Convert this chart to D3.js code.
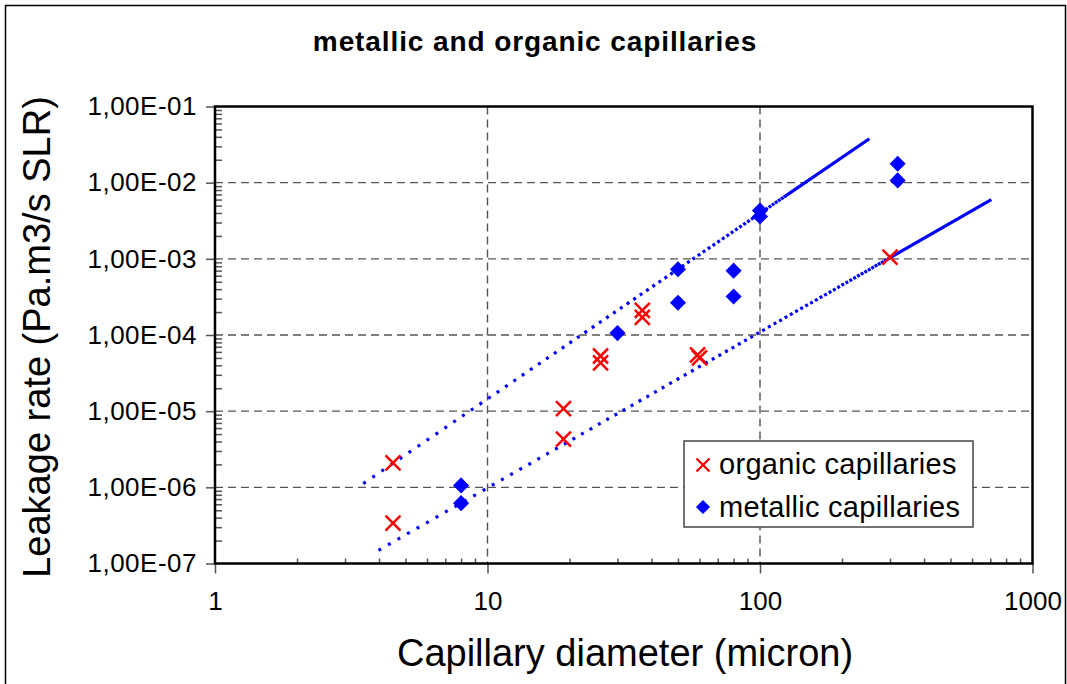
<!DOCTYPE html>
<html>
<head>
<meta charset="utf-8">
<script src="https://cdn.jsdelivr.net/npm/d3@7"></script>
<style>
  body { margin: 0; background: #fff; }
  text { font-family: Arial, "Liberation Sans", sans-serif; }
</style>
</head>
<body>
<svg id="canvas" width="1067" height="684"></svg>
<script>
// values
var organicX = [4.5, 4.5, 19, 19, 26, 26, 37, 37, 59, 60, 300];
var organicY = [2.1e-6, 3.4e-7, 1.08e-5, 4.3e-6, 5.3e-5, 4.3e-5, 2.1e-4, 1.7e-4, 5.5e-5, 5.0e-5, 1.05e-3];

var metallicX = [8, 8, 30, 50, 50, 80, 80, 100, 100, 320, 320];
var metallicY = [1.06e-6, 6.2e-7, 1.06e-4, 7.3e-4, 2.65e-4, 7.0e-4, 3.2e-4, 4.3e-3, 3.6e-3, 1.77e-2, 1.07e-2];

// power trendlines (start / end points)
var trendUpperX = [3.5, 252];
var trendUpperY = [1.12e-6, 3.77e-2];
var trendLowerX = [3.98, 706];
var trendLowerY = [1.49e-7, 5.97e-3];

var xTicks = [1, 10, 100, 1000];
var xTickLabels = ["1", "10", "100", "1000"];
var yTicks = [1e-7, 1e-6, 1e-5, 1e-4, 1e-3, 1e-2, 1e-1];
var yTickLabels = ["1,00E-07", "1,00E-06", "1,00E-05", "1,00E-04", "1,00E-03", "1,00E-02", "1,00E-01"];

var seriesNames = ["organic capillaries", "metallic capillaries"];

var svg = d3.select("#canvas"),
    plotLeft = 215, plotRight = 1032.5,
    plotTop = 106.5, plotBottom = 563.5;

var x = d3.scaleLog().domain([1, 1000]).range([plotLeft, plotRight]);
var y = d3.scaleLog().domain([1e-7, 1e-1]).range([plotBottom, plotTop]);

// chart frame
svg.append("rect")
  .attr("x", 5.5).attr("y", 5.5)
  .attr("width", 1060).attr("height", 700)
  .style("fill", "#fff")
  .style("stroke", "#000")
  .style("stroke-width", 1.5);

svg.append("text")
  .attr("x", 535).attr("y", 51)
  .attr("text-anchor", "middle")
  .style("font-size", "28px")
  .style("font-weight", "bold")
  .style("letter-spacing", "0.9px")
  .text("metallic and organic capillaries");

/*
  Grid
*/
var grid = svg.append("g");

grid.selectAll("line.h")
  .data(yTicks.slice(1, -1))
  .enter().append("line")
  .attr("class", "h")
  .attr("x1", plotLeft).attr("x2", plotRight)
  .attr("y1", function(d) { return y(d); })
  .attr("y2", function(d) { return y(d); });

grid.selectAll("line.v")
  .data(xTicks.slice(1, -1))
  .enter().append("line")
  .attr("class", "v")
  .attr("y1", plotTop).attr("y2", plotBottom)
  .attr("x1", function(d) { return x(d); })
  .attr("x2", function(d) { return x(d); });

grid.selectAll("line")
  .style("stroke", "#555")
  .style("stroke-width", 1.4)
  .style("stroke-dasharray", "8,5");

/*
  Axes
*/
function minorTicks(majors) {
  var out = [];
  for (var i = 0; i < majors.length - 1; i++)
    for (var k = 2; k < 10; k++) out.push(majors[i] * k);
  return out;
}

var yAxis = svg.append("g")
  .attr("transform", "translate(" + plotLeft + ",0)")
  .call(d3.axisLeft(y).tickValues(yTicks)
    .tickFormat(function(d, i) { return yTickLabels[i]; })
    .tickSize(9).tickPadding(9));

var yMinor = svg.append("g")
  .attr("transform", "translate(" + plotLeft + ",0)")
  .call(d3.axisLeft(y).tickValues(minorTicks(yTicks)).tickFormat("").tickSize(-7));

var xAxis = svg.append("g")
  .attr("transform", "translate(0," + plotBottom + ")")
  .call(d3.axisBottom(x).tickValues(xTicks)
    .tickFormat(function(d, i) { return xTickLabels[i]; })
    .tickSize(10).tickPadding(18));

var xMinor = svg.append("g")
  .attr("transform", "translate(0," + plotBottom + ")")
  .call(d3.axisBottom(x).tickValues(minorTicks(xTicks)).tickFormat("").tickSize(-5));

[yAxis, yMinor, xAxis, xMinor].forEach(function(g) {
  g.select(".domain").remove();
  g.selectAll(".tick line").style("stroke", "#555").style("stroke-width", 1.5);
  g.selectAll("text")
    .style("font-size", "26px")
    .style("font-family", "Arial, 'Liberation Sans', sans-serif")
    .style("fill", "#000");
});
yAxis.selectAll("text").style("letter-spacing", "0.5px");

// plot area border
svg.append("rect")
  .attr("x", plotLeft).attr("y", plotTop)
  .attr("width", plotRight - plotLeft).attr("height", plotBottom - plotTop)
  .style("fill", "none")
  .style("stroke", "#000")
  .style("stroke-width", 2.5);

svg.append("text")
  .attr("x", 625).attr("y", 666)
  .attr("text-anchor", "middle")
  .style("font-size", "38px")
  .text("Capillary diameter (micron)");

svg.append("text")
  .attr("transform", "translate(50,337) rotate(-90)")
  .attr("text-anchor", "middle")
  .style("font-size", "38px")
  .text("Leakage rate (Pa.m3/s SLR)");

/*
  Trendlines: dotted at the low end, getting denser until solid
*/
function trendDash(len) {
  var dash = [], t = 0, gap;
  while (t < len) {
    gap = 8 * (1 - Math.pow(t / len / 0.85, 2));
    if (gap < 0.4) { dash.push(len - t + 1, 0); break; }
    dash.push(3, gap);
    t += 3 + gap;
  }
  return dash.join(",");
}

var line = d3.line()
  .x(function(d) { return x(d[0]); })
  .y(function(d) { return y(d[1]); });

[[trendUpperX, trendUpperY], [trendLowerX, trendLowerY]].forEach(function(tr) {
  var pts = d3.zip(tr[0], tr[1]);
  var dx = x(pts[1][0]) - x(pts[0][0]);
  var dy = y(pts[1][1]) - y(pts[0][1]);
  svg.append("path")
    .attr("d", line(pts))
    .style("fill", "none")
    .style("stroke", "#0000ff")
    .style("stroke-width", 3.2)
    .style("stroke-dasharray", trendDash(Math.sqrt(dx * dx + dy * dy)));
});

/*
  Markers
*/
function crossPath(r) {
  return "M" + (-r) + "," + (-r) + "L" + r + "," + r + "M" + (-r) + "," + r + "L" + r + "," + (-r);
}

var diamond = d3.symbol().type(d3.symbolSquare).size(130);

svg.append("g").selectAll("path")
  .data(d3.zip(metallicX, metallicY))
  .enter().append("path")
  .attr("transform", function(d) { return "translate(" + x(d[0]) + "," + y(d[1]) + ") rotate(45)"; })
  .attr("d", diamond)
  .style("fill", "#0000ff");

svg.append("g").selectAll("path")
  .data(d3.zip(organicX, organicY))
  .enter().append("path")
  .attr("transform", function(d) { return "translate(" + x(d[0]) + "," + y(d[1]) + ")"; })
  .attr("d", crossPath(7.5))
  .style("fill", "none")
  .style("stroke", "#ff0000")
  .style("stroke-width", 2.5);

/*
  Legend
*/
var legend = svg.append("g");

legend.append("rect")
  .attr("x", 684).attr("y", 441)
  .attr("width", 289).attr("height", 86)
  .style("fill", "#fff")
  .style("stroke", "#444")
  .style("stroke-width", 1.5);

legend.append("path")
  .attr("transform", "translate(703,465)")
  .attr("d", crossPath(6.5))
  .style("fill", "none")
  .style("stroke", "#ff0000")
  .style("stroke-width", 2.3);

legend.append("path")
  .attr("transform", "translate(703,507) rotate(45)")
  .attr("d", d3.symbol().type(d3.symbolSquare).size(100))
  .style("fill", "#0000ff");

legend.selectAll("text")
  .data(seriesNames)
  .enter().append("text")
  .attr("x", 719)
  .attr("y", function(d, i) { return 474 + i * 43; })
  .style("font-size", "29px")
  .style("letter-spacing", "0.3px")
  .text(function(d) { return d; });
</script>
</body>
</html>
